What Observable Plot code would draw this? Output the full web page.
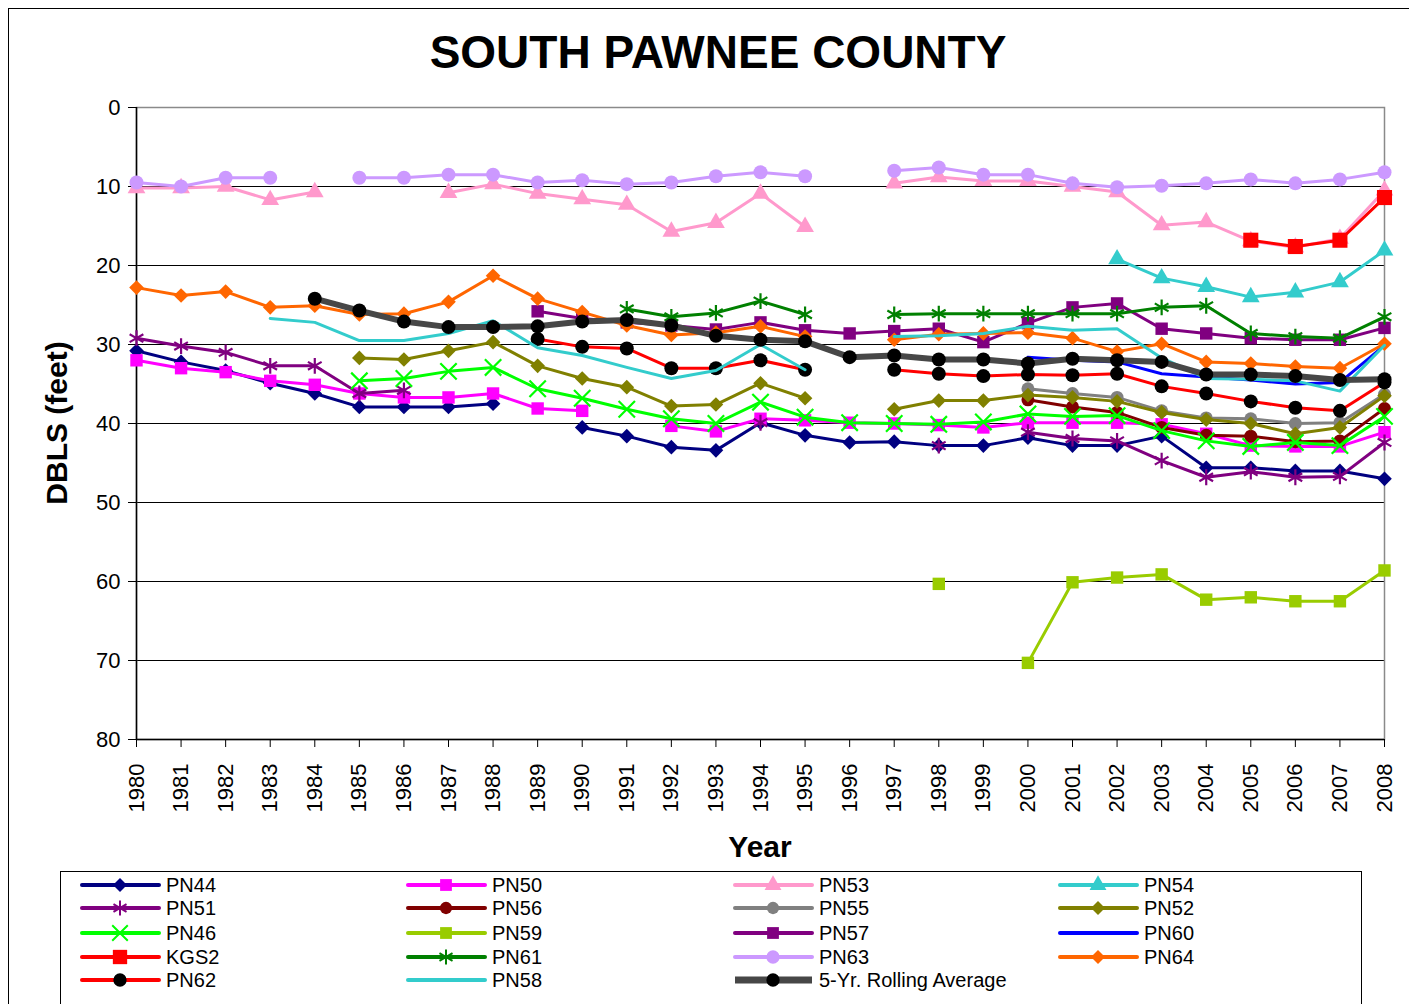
<!DOCTYPE html>
<html><head><meta charset="utf-8">
<script src="https://cdn.jsdelivr.net/npm/d3@7"></script>
<script src="https://cdn.jsdelivr.net/npm/@observablehq/plot@0.6"></script>
<style>
body{margin:0;background:#fff;font-family:"Liberation Sans",Arial,sans-serif;}
#wrap{position:relative;width:1409px;height:1004px;overflow:hidden;background:#fff;}
#border{position:absolute;left:8px;top:8px;width:1420px;height:1020px;border-left:1.5px solid #000;border-top:1.5px solid #000;}
#title{position:absolute;left:718px;top:29px;transform:translateX(-50%);font-size:46px;font-weight:bold;line-height:1;white-space:nowrap;}
#chart{position:absolute;left:0;top:0;}
#ylabel{position:absolute;left:57px;top:423px;transform:translate(-50%,-50%) rotate(-90deg);font-size:30px;font-weight:bold;white-space:nowrap;line-height:1;}
#xlabel{position:absolute;left:760px;top:847px;transform:translate(-50%,-50%);font-size:30px;font-weight:bold;white-space:nowrap;line-height:1;}
#legend{position:absolute;left:60px;top:871px;width:1300px;height:140px;border:1px solid #000;}
.item{position:absolute;height:22px;display:flex;align-items:center;font-size:20px;white-space:nowrap;}
.item svg{margin-right:5px;}
</style></head><body>
<div id="wrap">
  <div id="border"></div>
  <div id="title">SOUTH PAWNEE COUNTY</div>
  <div id="chart"></div>
  <div id="ylabel">DBLS (feet)</div>
  <div id="xlabel">Year</div>
  <div id="legend"></div>
</div>
<script>
const pad = n => Array(n).fill(null);
const years = d3.range(1980, 2009);
const yTicks = [0, 10, 20, 30, 40, 50, 60, 70, 80];

// Depth below land surface (feet), one value per year 1980..2008, null = no reading
const PN44 = [30.8, 32.2, 33.3, 34.9, 36.2, 37.9, 37.9, 37.9, 37.5, null, 40.5, 41.6, 43.0, 43.4, 39.9, 41.5, 42.4, 42.3, 42.8, 42.8, 41.8, 42.8, 42.8, 41.6, 45.6, 45.6, 46.0, 46.0, 47.0];
const PN50 = [32.0, 33.0, 33.5, 34.6, 35.1, 36.2, 36.7, 36.7, 36.2, 38.1, 38.4, null, 40.3, 41.0, 39.4, 39.6, 39.9, 40.0, 40.2, 40.5, 39.9, 39.9, 39.9, 40.1, 41.3, 42.8, 42.9, 42.9, 41.1];
const PN53 = [10.2, 10.2, 10.0, 11.7, 10.7, null, null, 10.8, 9.7, 10.9, 11.6, 12.3, 15.7, 14.6, 10.9, 15.1, null, 9.6, 8.8, 9.3, 9.3, 10.0, 10.7, 14.9, 14.5, 16.9, 17.7, 16.6, 10.5];
const PN54 = [...pad(22), 19.2, 21.6, 22.7, 24.0, 23.4, 22.1, 18.1];
const PN51 = [29.2, 30.2, 31.0, 32.7, 32.7, 36.2, 35.8, null, null, null, null, null, null, null, 39.9, null, null, null, 42.8, null, 41.1, 41.9, 42.2, 44.7, 46.8, 46.1, 46.8, 46.7, 42.4];
const PN56 = [...pad(20), 37.0, 37.9, 38.6, 40.5, 41.5, 41.6, 42.3, 42.2, 38.1];
const PN55 = [...pad(20), 35.6, 36.2, 36.7, 38.4, 39.3, 39.4, 40.0, 39.9, 36.3];
const PN52 = [...pad(5), 31.7, 31.9, 30.8, 29.7, 32.7, 34.3, 35.4, 37.8, 37.6, 34.9, 36.8, null, 38.2, 37.1, 37.1, 36.4, 36.7, 37.2, 38.6, 39.5, 40.0, 41.3, 40.5, 36.5];
const PN46 = [...pad(5), 34.6, 34.3, 33.4, 32.9, 35.6, 36.8, 38.2, 39.4, 40.0, 37.3, 39.2, 39.9, 40.0, 40.1, 39.8, 38.8, 39.1, 39.0, 40.9, 42.2, 42.9, 42.4, 42.8, 39.1];
const PN59 = [...pad(18), 60.3, null, 70.3, 60.1, 59.5, 59.1, 62.3, 62.0, 62.5, 62.5, 58.6];
const PN57 = [...pad(9), 25.8, 26.7, 27.2, 27.6, 28.1, 27.2, 28.2, 28.6, 28.3, 28.0, 29.7, 27.3, 25.3, 24.8, 28.0, 28.6, 29.2, 29.4, 29.4, 27.9];
const PN60 = [...pad(20), 31.6, 32.0, 32.2, 33.7, 34.1, 34.5, 35.0, 34.8, 30.1];
const KGS2 = [...pad(25), 16.8, 17.6, 16.8, 11.4];
const PN61 = [...pad(11), 25.5, 26.5, 26.0, 24.5, 26.2, null, 26.2, 26.1, 26.1, 26.1, 26.1, 26.1, 25.3, 25.1, 28.6, 29.0, 29.2, 26.5];
const PN63 = [9.5, 10.0, 8.9, 8.9, null, 8.9, 8.9, 8.5, 8.5, 9.5, 9.2, 9.7, 9.5, 8.7, 8.2, 8.7, null, 8.0, 7.6, 8.5, 8.5, 9.6, 10.1, 9.9, 9.6, 9.1, 9.6, 9.1, 8.2];
const PN64 = [22.8, 23.8, 23.3, 25.3, 25.1, 26.2, 26.1, 24.6, 21.3, 24.2, 25.9, 27.6, 28.8, 28.5, 27.7, 29.0, null, 29.4, 28.7, 28.6, 28.5, 29.2, 30.9, 29.9, 32.2, 32.4, 32.8, 33.0, 29.9];
const PN62 = [...pad(9), 29.3, 30.3, 30.5, 33.0, 33.0, 32.0, 33.2, null, 33.2, 33.7, 34.0, 33.8, 33.9, 33.7, 35.3, 36.2, 37.2, 38.0, 38.4, 34.8];
const PN58 = [...pad(3), 26.7, 27.2, 29.5, 29.5, 28.6, 27.0, 30.4, 31.4, 32.9, 34.3, 33.3, 30.0, 33.2, null, 29.0, 28.9, 28.6, 27.7, 28.2, 28.0, 31.7, 34.3, 34.4, 34.6, 35.9, 30.1];
const ROLL5 = [...pad(4), 24.2, 25.7, 27.1, 27.8, 27.8, 27.7, 27.1, 26.9, 27.6, 28.9, 29.4, 29.6, 31.6, 31.4, 31.9, 31.9, 32.4, 31.8, 32.0, 32.2, 33.8, 33.8, 34.0, 34.5, 34.4];

// legend order (row-major, 4 columns) = drawing order
const series = [
  {name:"PN44", values:PN44, color:"#000080", symbol:"diamond2", fill:"#000080", r:6.6},
  {name:"PN50", values:PN50, color:"#FF00FF", symbol:"square", fill:"#FF00FF", r:7},
  {name:"PN53", values:PN53, color:"#FF99CC", symbol:"triangle", fill:"#FF99CC", r:6.6},
  {name:"PN54", values:PN54, color:"#33CCCC", symbol:"triangle", fill:"#33CCCC", r:6.6},
  {name:"PN51", values:PN51, color:"#800080", symbol:"asterisk", stroke:"#800080", r:7.5},
  {name:"PN56", values:PN56, color:"#800000", symbol:"circle", fill:"#800000", r:6.5},
  {name:"PN55", values:PN55, color:"#808080", symbol:"circle", fill:"#808080", r:6.5},
  {name:"PN52", values:PN52, color:"#808000", symbol:"diamond2", fill:"#808000", r:6.6},
  {name:"PN46", values:PN46, color:"#00FF00", symbol:"times", stroke:"#00FF00", r:7.5},
  {name:"PN59", values:PN59, color:"#99CC00", symbol:"square", fill:"#99CC00", r:7},
  {name:"PN57", values:PN57, color:"#800080", symbol:"square", fill:"#800080", r:7},
  {name:"PN60", values:PN60, color:"#0000FF"},
  {name:"KGS2", values:KGS2, color:"#FF0000", symbol:"square", fill:"#FF0000", r:8.5},
  {name:"PN61", values:PN61, color:"#008000", symbol:"asterisk", stroke:"#008000", r:7.5},
  {name:"PN63", values:PN63, color:"#CC99FF", symbol:"circle", fill:"#CC99FF", r:7},
  {name:"PN64", values:PN64, color:"#FF6600", symbol:"diamond2", fill:"#FF6600", r:6.6},
  {name:"PN62", values:PN62, color:"#FF0000", symbol:"circle", fill:"#000000", r:7},
  {name:"PN58", values:PN58, color:"#33CCCC"},
  {name:"5-Yr. Rolling Average", values:ROLL5, color:"#474747", width:6, symbol:"circle", fill:"#000000", r:7}
];

const marks = [
  Plot.gridY(yTicks.slice(1, -1), {stroke:"#000", strokeOpacity:1, strokeWidth:1}),
  Plot.frame({stroke:"#8a8a8a", strokeWidth:1.5}),
  Plot.ruleX([1980], {stroke:"#000", strokeWidth:1.5}),
  Plot.ruleY([80], {stroke:"#000", strokeWidth:1.5}),
  Plot.axisY(yTicks, {tickSize:8, tickPadding:8, fontSize:22, label:null}),
  Plot.axisX(years, {tickSize:8, tickRotate:-90, tickPadding:16, fontSize:22, tickFormat:d => String(d), label:null})
];
for (const s of series) {
  const data = s.values.map((v, i) => ({year: years[i], value: v}));
  marks.push(Plot.line(data, {x:"year", y:"value", stroke:s.color, strokeWidth:s.width || 3, strokeLinejoin:"round"}));
  if (s.symbol) {
    if (s.stroke) marks.push(Plot.dot(data, {x:"year", y:"value", symbol:s.symbol, r:s.r, stroke:s.stroke, fill:"none", strokeWidth:2.2}));
    else marks.push(Plot.dot(data, {x:"year", y:"value", symbol:s.symbol, r:s.r, fill:s.fill, stroke:"none"}));
  }
}

const chart = Plot.plot({
  width:1409, height:870,
  marginTop:107, marginBottom:131, marginLeft:136, marginRight:25,
  x:{type:"linear", domain:[1980, 2008]},
  y:{domain:[0, 80], reverse:true},
  style:{fontFamily:'"Liberation Sans", Arial, sans-serif', color:"#000", background:"transparent"},
  marks
});
document.getElementById("chart").appendChild(chart);

// legend
const symbolMap = {diamond2:d3.symbolDiamond2, square:d3.symbolSquare, triangle:d3.symbolTriangle, asterisk:d3.symbolAsterisk, circle:d3.symbolCircle, times:d3.symbolTimes};
const colX = [80, 406, 733, 1058];
const rowY = [885, 908, 933, 957, 980];
const legend = document.getElementById("legend");
series.forEach((s, i) => {
  const col = i % 4, row = Math.floor(i / 4);
  const item = document.createElement("div");
  item.className = "item";
  item.style.left = (colX[col] - 61) + "px";
  item.style.top = (rowY[row] - 872 - 11) + "px";
  const ns = "http://www.w3.org/2000/svg";
  const svg = document.createElementNS(ns, "svg");
  svg.setAttribute("width", 81); svg.setAttribute("height", 22);
  const ln = document.createElementNS(ns, "line");
  ln.setAttribute("x1", 2); ln.setAttribute("x2", 79); ln.setAttribute("y1", 11); ln.setAttribute("y2", 11);
  ln.setAttribute("stroke", s.color); ln.setAttribute("stroke-width", s.width ? 7 : 4); ln.setAttribute("stroke-linecap", s.width ? "butt" : "round");
  svg.appendChild(ln);
  if (s.symbol) {
    const p = document.createElementNS(ns, "path");
    const size = Math.PI * Math.pow(s.r * 0.95, 2);
    p.setAttribute("d", d3.symbol(symbolMap[s.symbol], size)());
    p.setAttribute("transform", "translate(40,11)");
    if (s.stroke) { p.setAttribute("stroke", s.stroke); p.setAttribute("fill", "none"); p.setAttribute("stroke-width", 2); }
    else p.setAttribute("fill", s.fill);
    svg.appendChild(p);
  }
  item.appendChild(svg);
  const t = document.createElement("span");
  t.textContent = s.name;
  item.appendChild(t);
  legend.appendChild(item);
});
</script>
</body></html>
